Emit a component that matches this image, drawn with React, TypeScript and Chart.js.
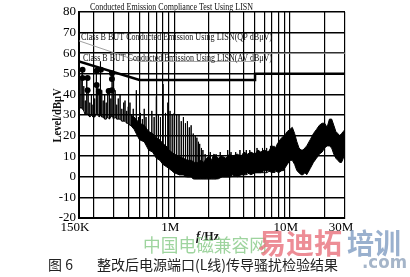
import React, { useEffect, useRef } from 'react';
import { Chart, registerables } from 'chart.js';

Chart.register(...registerables);

// ---- axis data (frequencies in MHz) ----
const gridFreqs = [0.15, 0.2, 0.3, 0.4, 0.5, 0.6, 0.7, 0.8, 0.9, 1, 2, 3, 4, 5, 6, 7, 8, 9, 10, 20, 30];
const tickValues = [0.15, 1, 10, 30];
const tickTexts = ['150K', '1M', '10M', '30M'];
const yMin = -20;
const yMax = 80;
const yStep = 10;

// ---- limit lines ----
const qpFreq = [0.15, 0.5, 5, 5, 30];
const qpLevel = [66, 56, 56, 60, 60];
const avFreq = [0.15, 0.5, 5, 5, 30];
const avLevel = [56, 47, 47, 50, 50];

// ---- dense noise band (upper / lower envelope) ----
const bandFreq = [0.42, 0.45, 0.5, 0.55, 0.6, 0.65, 0.7, 0.75, 0.8, 0.85, 0.9, 0.95, 1.0, 1.1, 1.2, 1.3, 1.4, 1.5, 1.6, 1.7, 1.8, 1.9, 2.0, 2.1, 2.2, 2.4, 2.6, 2.8, 3.0, 3.2, 3.5, 3.8, 4.0, 4.3, 4.6, 5.0, 5.3, 5.6, 6.0, 6.5, 7.0, 7.5, 8.0, 8.5, 9.0, 9.5, 10.0, 10.5, 11.0, 11.5, 12.0, 12.5, 13.0, 13.5, 14.0, 15.0, 16.0, 17.0, 18.0, 19.0, 20.0, 21.0, 22.0, 23.0, 24.0, 25.0, 26.0, 27.0, 28.0, 29.0, 30.0];
const bandUpper = [30, 29, 26, 25, 22, 21, 19, 18, 16, 15, 13, 12, 11, 10, 9, 8, 8, 7, 7, 8, 7, 9, 10, 8, 11, 9, 10, 9, 11, 10, 11, 10, 12, 11, 12, 11, 13, 12, 13, 12, 15, 14, 17, 19, 20, 22, 23, 24, 21, 17, 14, 13, 13, 14, 15, 18, 21, 23, 25, 26, 26, 24, 28, 28, 25, 22, 21, 20, 21, 22, 23];
const bandLower = [25, 23, 18, 17, 13, 12, 9, 8, 6, 5, 4, 3, 2, 1, 1, 0, 0, -1, -1, -1, -1, -1, -1, -1, -1, -1, 0, 0, 0, 1, 0, 1, 1, 2, 1, 2, 2, 2, 3, 3, 2, 3, 2, 3, 4, 6, 8, 8, 6, 3, 2, 1, 1, 2, 1, 4, 7, 9, 11, 12, 14, 15, 15, 14, 11, 9, 8, 7, 7, 9, 13];

// ---- harmonic spikes ----
const spikeFreq = [0.152, 0.156, 0.16, 0.165, 0.17, 0.175, 0.18, 0.186, 0.192, 0.198, 0.205, 0.212, 0.218, 0.225, 0.23, 0.236, 0.243, 0.25, 0.258, 0.266, 0.275, 0.283, 0.29, 0.298, 0.308, 0.318, 0.328, 0.34, 0.352, 0.365, 0.375, 0.388, 0.4, 0.414, 0.428, 0.442, 0.47, 0.49, 0.51, 0.53, 0.55, 0.57, 0.6, 0.64, 0.67, 0.7, 0.73, 0.76, 0.8, 0.84, 0.88, 0.92, 0.96, 1.0, 1.05, 1.1, 1.15, 1.2, 1.25, 1.3, 1.35, 1.4, 1.46, 1.52, 1.57, 1.62, 1.66, 1.72, 1.77, 1.85, 2.05, 2.3, 2.5, 2.9, 3.1, 3.4, 3.7, 4.2, 4.5, 5.2, 5.8, 6.3, 6.8, 7.3, 7.8, 8.8];
const spikePeak = [40, 47, 53, 44, 37, 49, 43, 36, 40, 35, 38, 52, 45, 41, 56, 42, 37, 40, 36, 42, 43, 38, 51, 41, 42, 35, 38, 40, 33, 36, 37, 32, 34, 36, 30, 33, 42, 29, 31, 28, 33, 29, 30, 32, 29, 39, 30, 29, 45, 31, 36, 32, 30, 31, 30, 30, 27, 29, 26, 27, 24, 25, 21, 20, 19, 17, 16, 14, 13, 11, 12, 11, 12, 13, 12, 12, 13, 13, 13, 14, 14, 14, 15, 15, 16, 19];
const spikeBase = [33, 34, 33, 32, 30, 31, 30, 29, 30, 29, 29, 31, 30, 29, 30, 29, 29, 28, 28, 29, 28, 29, 30, 28, 29, 28, 28, 28, 27, 27, 27, 26, 26, 25, 25, 24, 23, 21, 20, 19, 18, 16, 15, 14, 12, 11, 10, 9, 7, 6, 5, 4, 3, 2, 2, 1, 1, 1, 0, 0, 0, 0, -1, -1, -1, -1, -1, -1, -1, -1, -1, -1, 0, 0, 0, 1, 1, 1, 2, 2, 2, 2, 3, 2, 3, 3];

// ---- measurement markers ----
const markerFreq = [0.161, 0.161, 0.178, 0.178, 0.213, 0.213, 0.232, 0.223, 0.289, 0.289, 0.289, 0.271];
const markerLevel = [52, 48, 48, 42, 51.5, 44.6, 52, 41.4, 50.3, 47.5, 42, 41.7];

// ---- texts ----
const chartTitle = 'Conducted Emission Compliance Test Using LISN';
const qpLabel = 'Class B BUT Conducted Emission Using LISN(QP dBμV)';
const avLabel = 'Class B BUT Conducted Emission Using LISN(AV dBμV)';
const yTitle = 'Level/dBμV';
const xTitleItalic = 'f';
const xTitleRest = '/Hz';
const captionNo = '图 6';
const captionText = '整改后电源端口(L线)传导骚扰检验结果';
const wmGreen = '中国电磁兼容网';
const wmRed = '易迪拓';
const wmBlue = '培训';
const wmCom = '.com';

const SERIF = '"Liberation Serif", "DejaVu Serif", serif';
const CJK = '"Noto Sans CJK SC", sans-serif';

function zip(xs: number[], ys: number[]) {
  return xs.map((x, i) => ({ x, y: ys[i] }));
}

export default function App() {
  const ref = useRef<HTMLCanvasElement>(null);

  useEffect(() => {
    const canvas = ref.current;
    if (!canvas) return;

    const spikeData = spikeFreq.flatMap((f, i) => [
      { x: f, y: spikeBase[i] },
      { x: f, y: spikePeak[i] },
      { x: f, y: spikeBase[i] },
    ]);

    const textPlugin = {
      id: 'texts',
      afterDatasetsDraw(chart: any) {
        const ctx = chart.ctx as CanvasRenderingContext2D;
        ctx.save();
        ctx.fillStyle = '#111';
        ctx.textBaseline = 'middle';
        ctx.textAlign = 'left';
        ctx.font = `10px ${SERIF}`;
        ctx.fillText(qpLabel, 81, 37, 191);
        ctx.fillText(avLabel, 83, 58, 189);
        ctx.restore();
      },
      afterDraw(chart: any) {
        const ctx = chart.ctx as CanvasRenderingContext2D;
        ctx.save();
        ctx.textBaseline = 'middle';
        // title
        ctx.fillStyle = '#111';
        ctx.textAlign = 'left';
        ctx.font = `10px ${SERIF}`;
        ctx.fillText(chartTitle, 90, 7, 163);
        // y title
        ctx.save();
        ctx.translate(58, 115.5);
        ctx.rotate(-Math.PI / 2);
        ctx.textAlign = 'center';
        ctx.font = `bold 12px ${SERIF}`;
        ctx.fillText(yTitle, 0, 0, 54);
        ctx.restore();
        // x title
        ctx.font = `italic bold 12px ${SERIF}`;
        const wf = ctx.measureText(xTitleItalic).width;
        ctx.font = `bold 12px ${SERIF}`;
        const wr = ctx.measureText(xTitleRest).width;
        const xs = 207 - (wf + wr) / 2;
        ctx.textAlign = 'left';
        ctx.font = `italic bold 12px ${SERIF}`;
        ctx.fillText(xTitleItalic, xs, 237);
        ctx.font = `bold 12px ${SERIF}`;
        ctx.fillText(xTitleRest, xs + wf + 1, 237);
        // watermarks
        ctx.globalAlpha = 0.8;
        ctx.fillStyle = '#86c986';
        ctx.font = `18px ${CJK}`;
        ctx.fillText(wmGreen, 143, 245, 124);
        ctx.fillStyle = '#e8707c';
        ctx.font = `bold 28px ${CJK}`;
        ctx.fillText(wmRed, 258, 243, 89);
        ctx.fillStyle = '#7f9cc2';
        ctx.fillText(wmBlue, 347, 243, 54);
        ctx.fillStyle = '#8ea3bb';
        ctx.font = `bold 17px ${'"DejaVu Sans", sans-serif'}`;
        ctx.fillText(wmCom, 362, 264, 45);
        ctx.globalAlpha = 1;
        // caption
        ctx.fillStyle = '#222';
        ctx.font = `14px ${CJK}`;
        ctx.fillText(captionNo, 48, 265);
        ctx.fillText(captionText, 97, 265, 266);
        ctx.restore();
      },
    };

    const chart = new Chart(canvas, {
      type: 'line',
      data: {
        datasets: [
          {
            label: 'markers',
            data: zip(markerFreq, markerLevel),
            showLine: false,
            pointRadius: 3,
            pointBackgroundColor: '#000',
            pointBorderColor: '#000',
            pointBorderWidth: 0,
            order: 0,
          },
          {
            label: 'AV',
            data: zip(avFreq, avLevel),
            borderColor: '#000',
            borderWidth: 2.5,
            pointRadius: 0,
            fill: false,
            order: 1,
          },
          {
            label: 'QP',
            data: zip(qpFreq, qpLevel),
            borderColor: '#a0a0a0',
            borderWidth: 1,
            pointRadius: 0,
            fill: false,
            order: 2,
          },
          {
            label: 'spikes',
            data: spikeData,
            borderColor: '#000',
            borderWidth: 1,
            pointRadius: 0,
            fill: false,
            order: 3,
          },
          {
            label: 'bandUpper',
            data: zip(bandFreq, bandUpper),
            borderColor: '#000',
            backgroundColor: '#000',
            borderWidth: 1,
            pointRadius: 0,
            fill: '+1',
            order: 4,
          },
          {
            label: 'bandLower',
            data: zip(bandFreq, bandLower),
            borderColor: '#000',
            borderWidth: 1,
            pointRadius: 0,
            fill: false,
            order: 5,
          },
        ],
      },
      options: {
        animation: false,
        responsive: false,
        maintainAspectRatio: false,
        layout: { padding: { left: 0, top: 12, right: 65, bottom: 39 } },
        plugins: {
          legend: { display: false },
          tooltip: { enabled: false },
          title: { display: false },
        },
        scales: {
          x: {
            type: 'logarithmic',
            min: 0.15,
            max: 30,
            afterBuildTicks: (s: any) => {
              s.ticks = gridFreqs.map((v) => ({ value: v }));
            },
            afterFit: (s: any) => {
              s.height = 20;
            },
            grid: { color: '#000', lineWidth: 1.2, drawTicks: false },
            border: { color: '#000', width: 2 },
            ticks: {
              autoSkip: false,
              maxRotation: 0,
              padding: 2,
              labelOffset: -4,
              color: '#000',
              font: { family: SERIF, size: 13 },
              callback: (v: any) => {
                const i = tickValues.findIndex((t) => Math.abs(t - Number(v)) < 1e-9);
                return i >= 0 ? tickTexts[i] : '';
              },
            },
          },
          y: {
            min: yMin,
            max: yMax,
            afterFit: (s: any) => {
              s.width = 79;
            },
            grid: { color: '#000', lineWidth: 1.5, drawTicks: false },
            border: { color: '#000', width: 2 },
            ticks: {
              stepSize: yStep,
              padding: 3,
              color: '#000',
              font: { family: SERIF, size: 13 },
            },
          },
        },
      },
      plugins: [textPlugin],
    } as any);

    return () => chart.destroy();
  }, []);

  return (
    <div style={{ position: 'fixed', left: 0, top: 0, width: 410, height: 277, background: '#fff' }}>
      <canvas ref={ref} width={410} height={277} style={{ display: 'block' }} />
    </div>
  );
}
